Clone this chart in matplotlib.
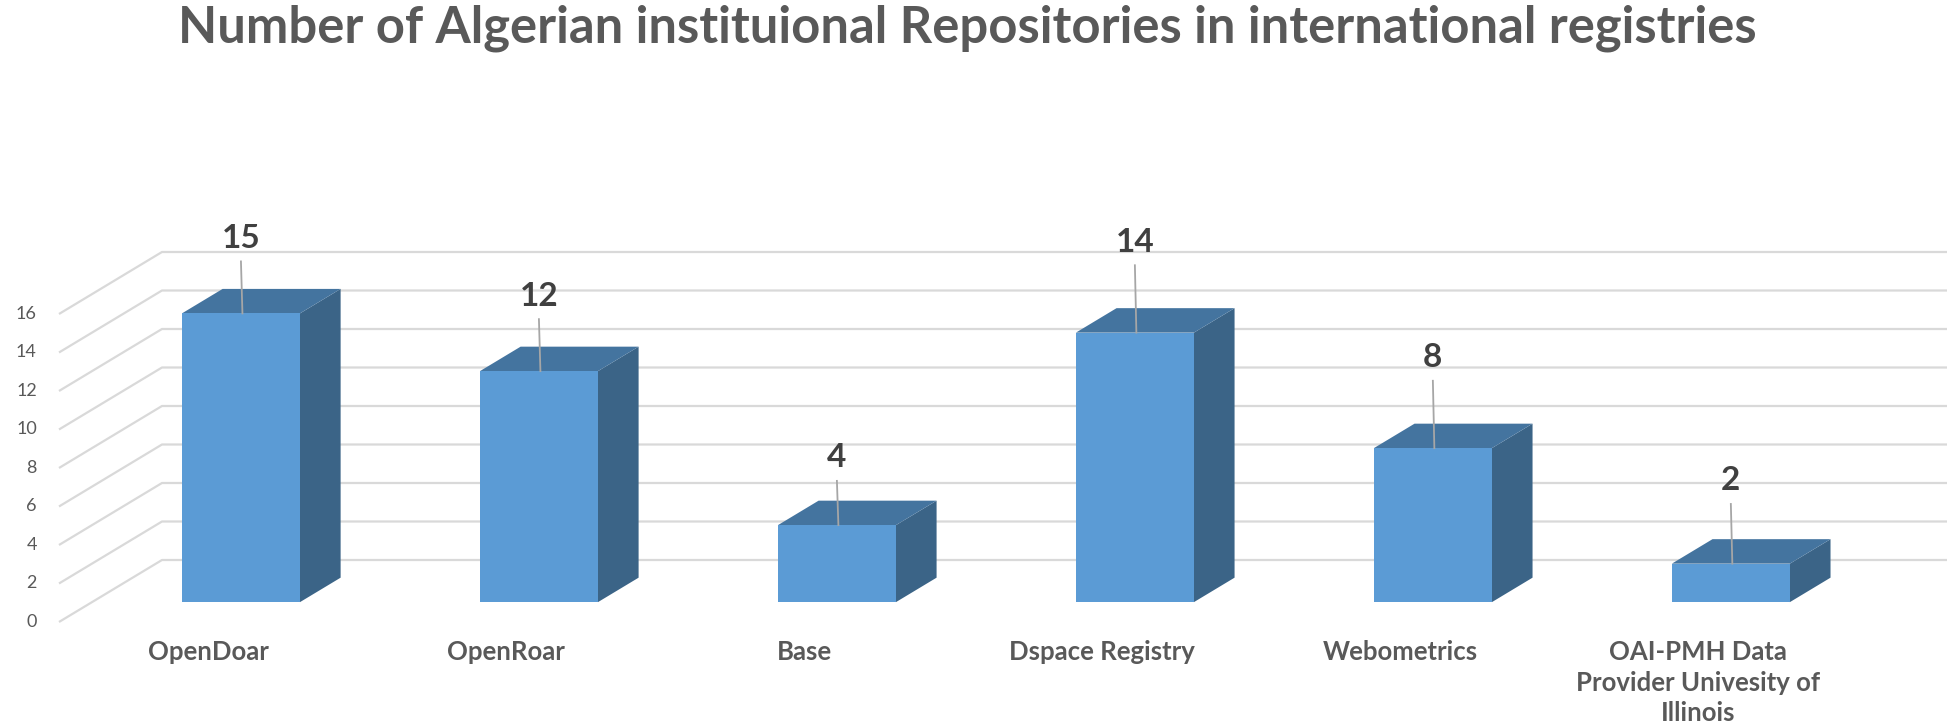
import matplotlib
matplotlib.use('Agg')
import matplotlib.pyplot as plt
from matplotlib.patches import Polygon

plt.rcParams['font.family'] = ['Lato', 'DejaVu Sans']

# data
categories = ['OpenDoar', 'OpenRoar', 'Base', 'Dspace Registry', 'Webometrics',
              'OAI-PMH Data\nProvider Univesity of\nIllinois']
values = [15, 12, 4, 14, 8, 2]
yticks = [0, 2, 4, 6, 8, 10, 12, 14, 16]
title = 'Number of Algerian instituional Repositories in international registries'
# how far each data label sits above its bar (value units)
label_gap = [3.9, 3.9, 3.5, 4.7, 4.7, 4.3]

# look
FRONT = '#5b9bd5'
TOP = '#44749f'
SIDE = '#3b6487'
GRID = '#d9d9d9'
TXT = '#595959'
DX, DY = 0.3456, 3.22      # full depth of the floor, in data units
D0, D1 = 0.32, 0.715       # bar front/back depth fractions
BW = 0.396                 # bar width (category units)

fig = plt.figure(figsize=(19.47, 7.22), dpi=100)
ax = fig.add_axes([0, 0, 1, 1])
ax.set_xlim(-0.698, 5.836)
ax.set_ylim(-5.195, 32.31)
ax.set_axis_off()

xl = -0.5
xr = 6.2
# left wall diagonals + back wall gridlines
for v in yticks:
    ax.plot([xl, xl + DX, xr], [v, v + DY, v + DY], color=GRID, lw=1.6,
            solid_capstyle='butt', zorder=1)
    ax.annotate(str(v), (xl, v), xytext=(-16, 0), textcoords='offset points',
                ha='right', va='center', fontsize=13, color=TXT, zorder=2)

for i, v in enumerate(values):
    x0 = i - BW / 2 + D0 * DX
    x1 = x0 + BW
    y0 = D0 * DY
    y1 = v + y0
    ddx = (D1 - D0) * DX
    ddy = (D1 - D0) * DY
    side = [(x1, y0), (x1 + ddx, y0 + ddy), (x1 + ddx, y1 + ddy), (x1, y1)]
    top = [(x0, y1), (x1, y1), (x1 + ddx, y1 + ddy), (x0 + ddx, y1 + ddy)]
    front = [(x0, y0), (x1, y0), (x1, y1), (x0, y1)]
    ax.add_patch(Polygon(side, closed=True, fc=SIDE, ec='none', zorder=3))
    ax.add_patch(Polygon(top, closed=True, fc=TOP, ec='none', zorder=3))
    ax.add_patch(Polygon(front, closed=True, fc=FRONT, ec='none', zorder=3))

    cx = i + D0 * DX
    ly = y1 + label_gap[i]
    ax.text(cx, ly, str(v), ha='center', va='center', fontsize=24,
            fontweight='bold', color='#404040', zorder=5)
    ax.plot([cx, cx + 0.005], [ly - 1.2, y1], color='#a6a6a6', lw=1.3, zorder=4)

    ax.text(i, -0.95, categories[i], ha='center', va='top', fontsize=18.5,
            fontweight='bold', color=TXT, linespacing=1.32, zorder=2)

fig.text(0.497, 1 - 28 / 722, title, ha='center', va='center', fontsize=36.5,
         fontweight='bold', color=TXT)

fig.savefig('out.png', dpi=100, facecolor='white')
